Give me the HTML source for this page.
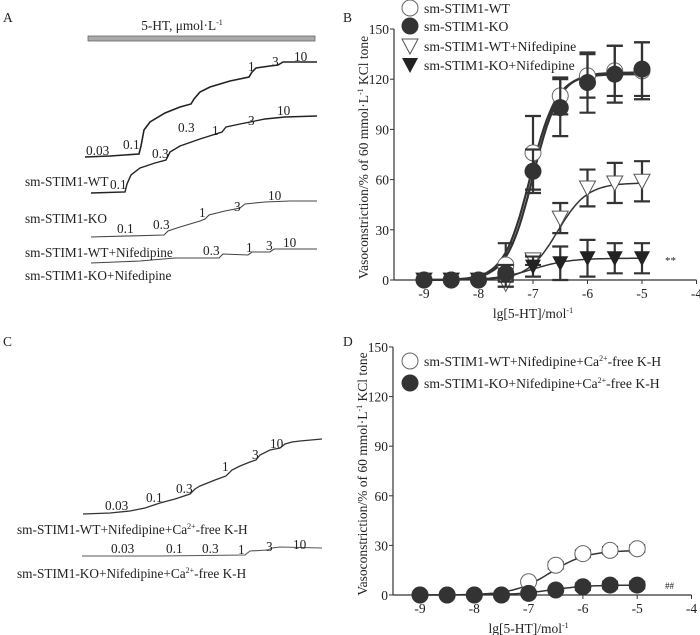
<!DOCTYPE html>
<html><head><meta charset="utf-8"><style>
body{margin:0;background:#fff}
svg{display:block;font-family:"Liberation Serif",serif;fill:#222}
text{fill:#222}
</style></head><body>
<svg id="fig" width="700" height="635" viewBox="0 0 700 635">
<g font-size="13.3">
<text x="3" y="22" font-size="13.5">A</text>
<rect x="88" y="36" width="227" height="5" fill="#aaa" stroke="#666" stroke-width="0.8"/>
<text x="182" y="30" text-anchor="middle">5-HT, μmol·L<tspan dy="-5" font-size="8">-1</tspan></text>
<polyline fill="none" stroke="#222" stroke-width="1.6" points="85,157 110,156 139,154 141,146 144,130 150,122 165,113 180,107 191,104 194,99 200,92 210,87 230,81 249,77 252,72 256,68 270,66 278,65 283,62 295,62 317,62"/>
<text x="86" y="155">0.03</text>
<text x="123" y="149">0.1</text>
<text x="178" y="132">0.3</text>
<text x="248" y="71">1</text>
<text x="272" y="66">3</text>
<text x="294" y="61">10</text>
<polyline fill="none" stroke="#222" stroke-width="1.4" points="91,193 125,192 127,184 131,175 140,168 155,163 166,160 170,152 180,146 200,139 222,132 226,127 240,124 255,121 265,119 285,117 317,116"/>
<text x="110" y="189">0.1</text>
<text x="152" y="158">0.3</text>
<text x="212" y="135">1</text>
<text x="248" y="125">3</text>
<text x="277" y="115">10</text>
<text x="25" y="186">sm-STIM1-WT</text>
<polyline fill="none" stroke="#444" stroke-width="1.1" points="91,237 164,235 168,231 180,227 200,221 205,219 209,215 225,211 240,208 245,204 265,202 290,201 317,201"/>
<text x="117" y="233">0.1</text>
<text x="153" y="229">0.3</text>
<text x="199" y="217">1</text>
<text x="234" y="211">3</text>
<text x="268" y="200">10</text>
<text x="25" y="223">sm-STIM1-KO</text>
<polyline fill="none" stroke="#444" stroke-width="1.1" points="91,263 140,261 175,258 219,258 223,254 248,255 252,252 270,252 274,249 290,249 317,249"/>
<text x="203" y="255">0.3</text>
<text x="246" y="252">1</text>
<text x="266" y="250">3</text>
<text x="283" y="247">10</text>
<text x="25" y="257">sm-STIM1-WT+Nifedipine</text>
<text x="25" y="280">sm-STIM1-KO+Nifedipine</text>
</g>
<g font-size="13.3">
<text x="3" y="346" font-size="13.5">C</text>
<polyline fill="none" stroke="#333" stroke-width="1.3" points="83,514 110,513 130,511 145,508 160,503 175,499 190,494 195,489 200,486 215,480 226,476 232,470 240,466 250,462 256,460 260,455 270,450 280,448 285,444 292,442 300,441 322,439"/>
<text x="105" y="510">0.03</text>
<text x="146" y="502">0.1</text>
<text x="176" y="493">0.3</text>
<text x="222" y="471">1</text>
<text x="252" y="459">3</text>
<text x="270" y="448">10</text>
<text x="17" y="534">sm-STIM1-WT+Nifedipine+Ca<tspan dy="-5" font-size="8">2+</tspan><tspan dy="5">-free K-H</tspan></text>
<polyline fill="none" stroke="#555" stroke-width="1.1" points="82,556 160,556 245,555 250,551 268,550 272,548 280,547 322,548"/>
<text x="111" y="553">0.03</text>
<text x="166" y="553">0.1</text>
<text x="202" y="553">0.3</text>
<text x="238" y="554">1</text>
<text x="266" y="551">3</text>
<text x="293" y="549">10</text>
<text x="17" y="578">sm-STIM1-KO+Nifedipine+Ca<tspan dy="-5" font-size="8">2+</tspan><tspan dy="5">-free K-H</tspan></text>
</g>
<text x="343" y="22" font-size="13.5">B</text>
<text x="343" y="346" font-size="13.5">D</text>
<g id="chartB"></g>
<g id="chartD"></g>
</svg>
<script>
const doses = [-9, -8.5, -8, -7.5, -7, -6.5, -6, -5.5, -5];
const bWT = [0, 0, 0, 9, 76, 110, 122, 125, 125];
const bWTErr = [0, 0, 0, 13, 22, 11, 13, 15, 17];
const bKO = [0, 0, 0, 4, 65, 103, 118, 123, 126];
const bKOErr = [0, 0, 0, 5, 13, 17, 18, 17, 16];
const bWTNif = [0, 0, 0, -2, 12, 37, 55, 58, 59];
const bWTNifErr = [0, 0, 0, 2, 3, 9, 11, 12, 12];
const bKONif = [0, 0, 0, 4, 8, 10, 13, 13, 13];
const bKONifErr = [0, 0, 0, 3, 6, 10, 11, 9, 9];
const bFitWT = [123, -7.05, 1.8];
const bFitKO = [124, -7.0, 1.8];
const bFitWTNif = [58, -6.55, 1.6];
const bFitKONif = [13, -7.0, 1.3];
const dWT = [0, 0, 0, 0, 8, 18, 25, 27, 28];
const dWTErr = [0, 0, 0, 0, 1, 2, 2, 2, 2];
const dKO = [0, 0, 0, 0, 1, 3, 5, 6, 6];
const dKOErr = [0, 0, 0, 0, 1, 1, 2, 2, 2];
const dFitWT = [27, -6.6, 1.3];
const dFitKO = [6, -6.6, 1.3];
const xTicks = [-9, -8, -7, -6, -5, -4];
const yTicks = [0, 30, 60, 90, 120, 150];

const NS = 'http://www.w3.org/2000/svg';
function mk(tag, attrs, parent) {
  const e = document.createElementNS(NS, tag);
  for (const k in attrs) e.setAttribute(k, attrs[k]);
  parent.appendChild(e);
  return e;
}
function hill(p, x) { return p[0] / (1 + Math.pow(10, (p[1] - x) * p[2])); }

function drawChart(g, ax, series, legend, mark) {
  const X = v => ax.x0 + (v - (-9)) * ax.xs;
  const Y = v => ax.y0 - v * ax.ys;
  const yl = mk('line', {x1: ax.ax, y1: Y(150), x2: ax.ax, y2: Y(0), stroke: '#333', 'stroke-width': 1.2}, g);
  
  
  const xl = mk('line', {x1: ax.ax, y1: Y(0), x2: X(-4), y2: Y(0), stroke: '#333', 'stroke-width': 1.2}, g);
  
  
  yTicks.forEach(t => {
    mk('line', {x1: ax.ax - 4, y1: Y(t), x2: ax.ax, y2: Y(t), stroke: '#333'}, g);
    const tx = mk('text', {x: ax.ax - 5, y: Y(t) + 5, 'text-anchor': 'end', 'font-size': 13.5}, g);
    tx.textContent = t;
    
    
  });
  xTicks.forEach(t => {
    mk('line', {x1: X(t), y1: Y(0), x2: X(t), y2: Y(0) + 4, stroke: '#333'}, g);
    const tx = mk('text', {x: X(t), y: Y(0) + 18, 'text-anchor': 'middle', 'font-size': 13.5}, g);
    tx.textContent = t;
    
    
  });
  const yt = mk('text', {transform: `translate(${ax.ax - 26},${(Y(0) + Y(150)) / 2 + 3}) rotate(-90)`, 'text-anchor': 'middle', 'font-size': 13.5}, g);
  yt.innerHTML = 'Vasoconstriction/% of 60 mmol·L<tspan dy="-5" font-size="8">-1</tspan><tspan dy="5"> KCl tone</tspan>';
  
  
  const xt = mk('text', {x: X(-7), y: Y(0) + 38, 'text-anchor': 'middle', 'font-size': 13.5}, g);
  xt.innerHTML = 'lg[5-HT]/mol<tspan dy="-5" font-size="8">-1</tspan>';
  
  
  series.forEach(s => {
    let d = '';
    for (let i = 0; i <= 80; i++) { const x = -9 + i * 4 / 80; d += (i ? 'L' : 'M') + X(x).toFixed(1) + ',' + Y(hill(s.fit, x)).toFixed(1); }
    const p = mk('path', {d: d, fill: 'none', stroke: '#333', 'stroke-width': s.lw}, g);
    
    
  });
  series.forEach(s => {
    doses.forEach((xv, i) => {
      const e = s.err[i];
      if (e > 0) {
        const cx = X(xv), y1 = Y(s.vals[i] + e), y2 = Y(s.vals[i] - e);
        const eb = mk('path', {d: `M${cx},${y1}V${y2}M${cx - 8},${y1}H${cx + 8}M${cx - 8},${y2}H${cx + 8}`, stroke: '#333', 'stroke-width': 2.2, fill: 'none'}, g);
        
        
      }
      const m = mark(s.shape, X(xv), Y(s.vals[i]), g);
      
      
    });
  });
  legend.forEach(l => {
    const m = mark(l.shape, l.x, l.y, g);
    
    
    const t = mk('text', {x: l.x + 14, y: l.y + 5, 'font-size': 13.7}, g);
    t.innerHTML = l.label;
    
    
  });
}
function marker(shape, x, y, g) {
  if (shape === 'oc') return mk('circle', {cx: x, cy: y, r: 8, fill: '#fff', stroke: '#666', 'stroke-width': 1}, g);
  if (shape === 'fc') return mk('circle', {cx: x, cy: y, r: 8.5, fill: '#333'}, g);
  if (shape === 'ot') return mk('path', {d: `M${x - 8},${y - 7}H${x + 8}L${x},${y + 8}Z`, fill: '#fff', stroke: '#555', 'stroke-width': 1}, g);
  return mk('path', {d: `M${x - 8},${y - 7}H${x + 8}L${x},${y + 8}Z`, fill: '#222'}, g);
}
const gB = document.getElementById('chartB');
drawChart(gB, {x0: 424, xs: 54.5, y0: 280, ys: 251 / 150, ax: 394}, [
  {name: 'wt-nifedipine', vals: bWTNif, err: bWTNifErr, fit: bFitWTNif, shape: 'ot', lw: 1.5},
  {name: 'ko-nifedipine', vals: bKONif, err: bKONifErr, fit: bFitKONif, shape: 'ft', lw: 1.5},
  {name: 'wt', vals: bWT, err: bWTErr, fit: bFitWT, shape: 'oc', lw: 2.2},
  {name: 'ko', vals: bKO, err: bKOErr, fit: bFitKO, shape: 'fc', lw: 2.2}
], [
  {shape: 'oc', x: 410, y: 8, label: 'sm-STIM1-WT'},
  {shape: 'fc', x: 410, y: 26, label: 'sm-STIM1-KO'},
  {shape: 'ot', x: 410, y: 46, label: 'sm-STIM1-WT+Nifedipine'},
  {shape: 'ft', x: 410, y: 65, label: 'sm-STIM1-KO+Nifedipine'}
], marker);
const ast = document.createElementNS(NS, 'text');
ast.setAttribute('x', 665); ast.setAttribute('y', 264); ast.setAttribute('font-size', 11);
ast.textContent = '**';


gB.appendChild(ast);
const gD = document.getElementById('chartD');
drawChart(gD, {x0: 420, xs: 54.3, y0: 595, ys: 248 / 150, ax: 393}, [
  {name: 'd-wt', vals: dWT, err: dWTErr, fit: dFitWT, shape: 'oc', lw: 1.5},
  {name: 'd-ko', vals: dKO, err: dKOErr, fit: dFitKO, shape: 'fc', lw: 1.5}
], [
  {shape: 'oc', x: 410, y: 361, label: 'sm-STIM1-WT+Nifedipine+Ca<tspan dy="-5" font-size="8">2+</tspan><tspan dy="5">-free K-H</tspan>'},
  {shape: 'fc', x: 410, y: 383, label: 'sm-STIM1-KO+Nifedipine+Ca<tspan dy="-5" font-size="8">2+</tspan><tspan dy="5">-free K-H</tspan>'}
], marker);
const hh = document.createElementNS(NS, 'text');
hh.setAttribute('x', 665); hh.setAttribute('y', 589); hh.setAttribute('font-size', 9); hh.setAttribute('fill', '#777');
hh.textContent = '##';


gD.appendChild(hh);
</script>
</body></html>
